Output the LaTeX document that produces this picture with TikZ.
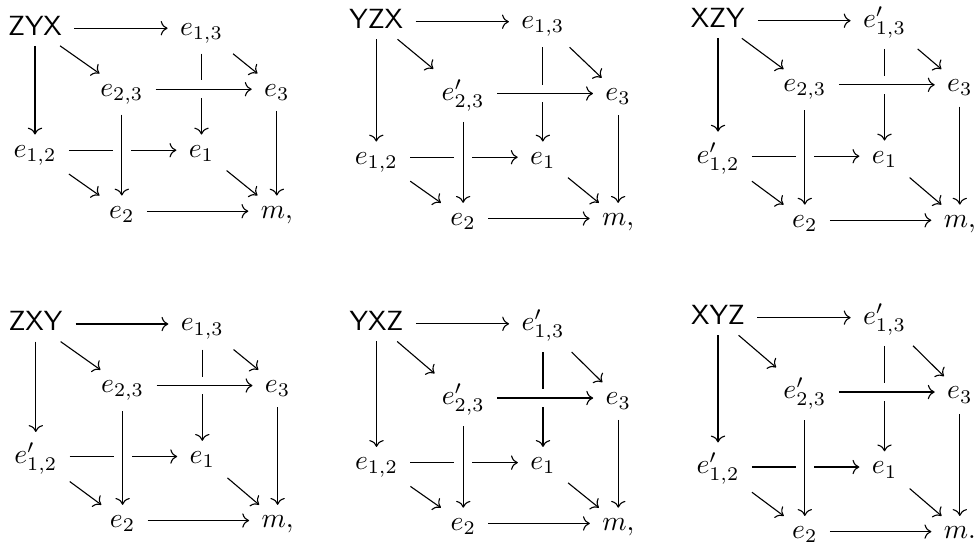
\documentclass[tikz,border=0pt]{standalone}
\usetikzlibrary{cd,arrows.meta}

% one unit = one pixel at 200 dpi, y axis pointing down
\tikzset{
  cell/.style={shape=asymmetrical rectangle, inner xsep=1ex, inner ysep=0.85ex,
    execute at begin node=$, execute at end node=$},
  arr/.style={draw, line width=0.4pt, -{Computer Modern Rightarrow}},
  crossover/.style={preaction={draw=white, -, line width=1.5ex}},
}

% baselines (math axis) of the four rows of a cube
\newcommand\cuberows[4]{\def\rowA{#1}\def\rowB{#2}\def\rowC{#3}\def\rowD{#4}}

% #1 prefix, #2 x offset, #3 corner word, #4 e13, #5 e23, #6 e12, #7 punctuation
\newcommand\drawcube[7]{%
  \node[cell] (#1-a) at (#2+35,\rowA) {\mathsf{#3}};
  \node[cell] (#1-b) at (#2+201.5,\rowA) {#4};
  \node[cell] (#1-c) at (#2+121.8,\rowB) {#5};
  \node[cell] (#1-d) at (#2+276.8,\rowB) {e_3};
  \node[cell] (#1-e) at (#2+35,\rowC) {#6};
  \node[cell] (#1-f) at (#2+201.5,\rowC) {e_1};
  \node[cell] (#1-g) at (#2+121.8,\rowD) {e_2};
  \node[cell] (#1-h) at (#2+276.8,\rowD) {m#7};
  \draw[arr] (#1-a) -- (#1-b);
  \draw[arr] (#1-a) -- (#1-c);
  \draw[arr] (#1-a) -- (#1-e);
  \draw[arr] (#1-b) -- (#1-d);
  \draw[arr] (#1-b) -- (#1-f);
  \draw[arr] (#1-d) -- (#1-h);
  \draw[arr] (#1-e) -- (#1-f);
  \draw[arr] (#1-e) -- (#1-g);
  \draw[arr] (#1-f) -- (#1-h);
  \draw[arr] (#1-g) -- (#1-h);
  \draw[arr, crossover] (#1-c) -- (#1-d);
  \draw[arr, crossover] (#1-c) -- (#1-g);
}

\begin{document}
\begin{tikzpicture}[x=0.36135pt, y=-0.36135pt]
  \useasboundingbox (0,0) rectangle (976,543);

  \cuberows{28.2}{89.2}{150.2}{211.2}
  \drawcube{zyx}{0}{ZYX}{e_{1,3}}{e_{2,3}}{e_{1,2}}{,}

  \cuberows{21.7}{93.5}{157.2}{218.5}
  \drawcube{yzx}{341.3}{YZX}{e_{1,3}}{e'_{2,3}}{e_{1,2}}{,}

  \cuberows{20.7}{84.8}{156.2}{220.3}
  \drawcube{xzy}{683}{XZY}{e'_{1,3}}{e_{2,3}}{e'_{1,2}}{,}

  \cuberows{324}{385.5}{456.5}{520.5}
  \drawcube{zxy}{0.8}{ZXY}{e_{1,3}}{e_{2,3}}{e'_{1,2}}{,}

  \cuberows{323.8}{398}{462.6}{523.4}
  \drawcube{yxz}{341.5}{YXZ}{e'_{1,3}}{e'_{2,3}}{e_{1,2}}{,}

  \cuberows{317.6}{392}{467}{531.6}
  \drawcube{xyz}{683}{XYZ}{e'_{1,3}}{e'_{2,3}}{e'_{1,2}}{.}
\end{tikzpicture}
\end{document}
